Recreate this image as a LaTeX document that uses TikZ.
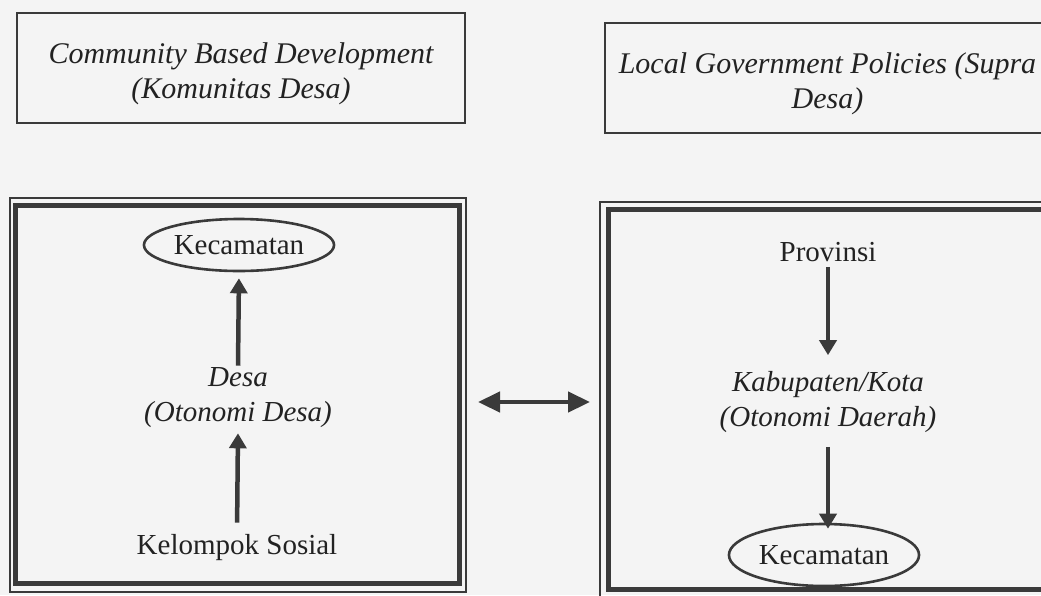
\documentclass[tikz,border=0pt]{standalone}
\usepackage{fontspec}
\setmainfont{Liberation Serif}
\usetikzlibrary{shapes.geometric,arrows.meta}
\definecolor{ink}{HTML}{222222}
\definecolor{linec}{HTML}{3A3A3A}
\definecolor{paper}{HTML}{F4F4F4}
\begin{document}
\begin{tikzpicture}[x=1pt,y=-1pt,
  txt/.style={font=\fontsize{29}{35}\selectfont, text=ink, inner sep=2pt, align=center},
  itxt/.style={txt, font=\fontsize{29}{35}\selectfont\itshape},
  toptxt/.style={txt, font=\fontsize{30}{35}\selectfont\itshape},
  topbox/.style={draw=linec, line width=1.8pt, inner sep=0pt},
  thinframe/.style={draw=linec, line width=1.2pt, inner sep=0pt},
  thickframe/.style={draw=linec, line width=5pt, inner sep=0pt},
  oval/.style={txt, ellipse, draw=linec, line width=2.6pt, minimum width=188pt},
  arr/.style={draw=linec, line width=4.5pt, -{Triangle[width=17pt,length=15pt]}},
  dbl/.style={draw=linec, line width=4.5pt, {Triangle[width=20pt,length=22pt]}-{Triangle[width=20pt,length=22pt]}}
]
\fill[paper] (0,0) rectangle (1041,595);
\useasboundingbox (0,0) rectangle (1041,595);

% top boxes
\node[topbox, minimum width=448pt, minimum height=110pt] (cbd) at (241,68) {};
\node[toptxt] (cbdt) at (241,74) {Community Based Development\\(Komunitas Desa)};
\node[topbox, minimum width=445pt, minimum height=110pt] (lgp) at (827.5,78) {};
\node[toptxt] (lgpt) at (827.5,84) {Local Government Policies (Supra\\Desa)};

% left frame
\node[thinframe, minimum width=456pt, minimum height=394pt] (frLo) at (238,395) {};
\node[thickframe, minimum width=444pt, minimum height=378.5pt] (frLi) at (237.5,394.25) {};
% right frame
\node[thinframe, minimum width=456pt, minimum height=395pt] (frRo) at (828,399.5) {};
\node[thickframe, minimum width=440pt, minimum height=380pt] (frRi) at (828,399) {};

% left column
\node[oval, minimum height=52pt] (kecL) at (239,245) {Kecamatan};
\node[itxt] (desa) at (238,398) {Desa\\(Otonomi Desa)};
\node[txt] (kel) at (237,548) {Kelompok Sosial};

% right column
\node[txt] (prov) at (828,252) {Provinsi};
\node[itxt] (kab) at (828,402) {Kabupaten/Kota\\(Otonomi Daerah)};
\node[oval, minimum height=62pt] (kecR) at (824,555) {Kecamatan};

% arrows
\draw[arr, shorten >=6pt] (desa.north) -- (kecL.south);
\draw[arr, shorten <=10pt, shorten >=3pt] (kel.north) -- (desa.south);
\draw[arr, shorten <=3pt, shorten >=14pt] (prov.south -| kab.north) -- (kab.north);
\draw[arr, shorten <=12pt, shorten >=-6pt] (kab.south) -- (kab.south |- kecR.north);

\coordinate (dl) at (478,402);
\coordinate (dr) at (590,402);
\draw[dbl] (dl) -- (dr);
\end{tikzpicture}
\end{document}
